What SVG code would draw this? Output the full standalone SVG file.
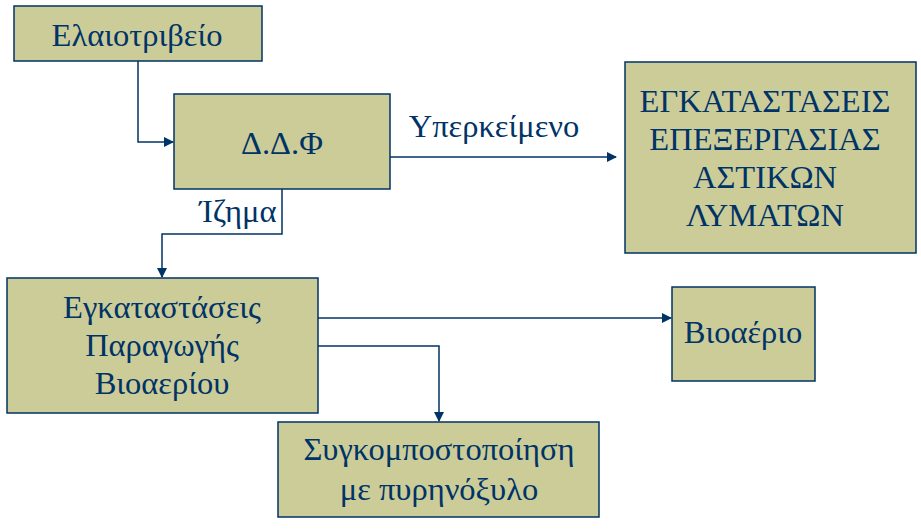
<svg xmlns="http://www.w3.org/2000/svg" width="921" height="529" viewBox="0 0 921 529">
<defs>
<style>
.box{fill:#CCCC99;stroke:#003366;stroke-width:1.5}
.t{font-family:"Liberation Serif","Times New Roman",serif;font-size:32.5px;fill:#003366;text-anchor:middle}
.c{fill:none;stroke:#003366;stroke-width:1.5}
</style>
<marker id="a" markerWidth="10" markerHeight="10" refX="9" refY="5" orient="auto" markerUnits="userSpaceOnUse">
<path d="M0,0 L10,5 L0,10 z" fill="#003366"/>
</marker>
</defs>
<rect width="921" height="529" fill="#fff"/>
<g id="n1"><rect class="box" x="14" y="6" width="248" height="55"/><text class="t" x="137" y="46">Ελαιοτριβείο</text></g>
<g id="n2"><rect class="box" x="174" y="94" width="216" height="95"/><text class="t" x="282" y="154">Δ.Δ.Φ</text></g>
<g id="n3"><rect class="box" x="625" y="62" width="291" height="191"/>
<text class="t" x="765" y="112">ΕΓΚΑΤΑΣΤΑΣΕΙΣ</text><text class="t" x="765" y="150">ΕΠΕΞΕΡΓΑΣΙΑΣ</text><text class="t" x="765" y="188">ΑΣΤΙΚΩΝ</text><text class="t" x="765" y="226">ΛΥΜΑΤΩΝ</text></g>
<g id="n4"><rect class="box" x="7" y="278" width="311" height="135"/>
<text class="t" x="162" y="318">Εγκαταστάσεις</text><text class="t" x="162" y="356">Παραγωγής</text><text class="t" x="162" y="394">Βιοαερίου</text></g>
<g id="n5"><rect class="box" x="672" y="287" width="143" height="94"/><text class="t" x="743" y="343">Βιοαέριο</text></g>
<g id="n6"><rect class="box" x="278" y="422" width="321" height="95"/>
<text class="t" x="439" y="460">Συγκομποστοποίηση</text><text class="t" x="439" y="500">με πυρηνόξυλο</text></g>
<g id="connectors">
<path class="c" d="M138,61 V142 H173" marker-end="url(#a)"/>
<path class="c" d="M390,157 H616" marker-end="url(#a)"/>
<path class="c" d="M282,189 V234 H162 V277" marker-end="url(#a)"/>
<path class="c" d="M318,318 H671" marker-end="url(#a)"/>
<path class="c" d="M318,346 H439 V421" marker-end="url(#a)"/>
<text class="t" x="494" y="137">Υπερκείμενο</text>
<text class="t" x="238" y="222">Ίζημα</text>
</g>
</svg>
